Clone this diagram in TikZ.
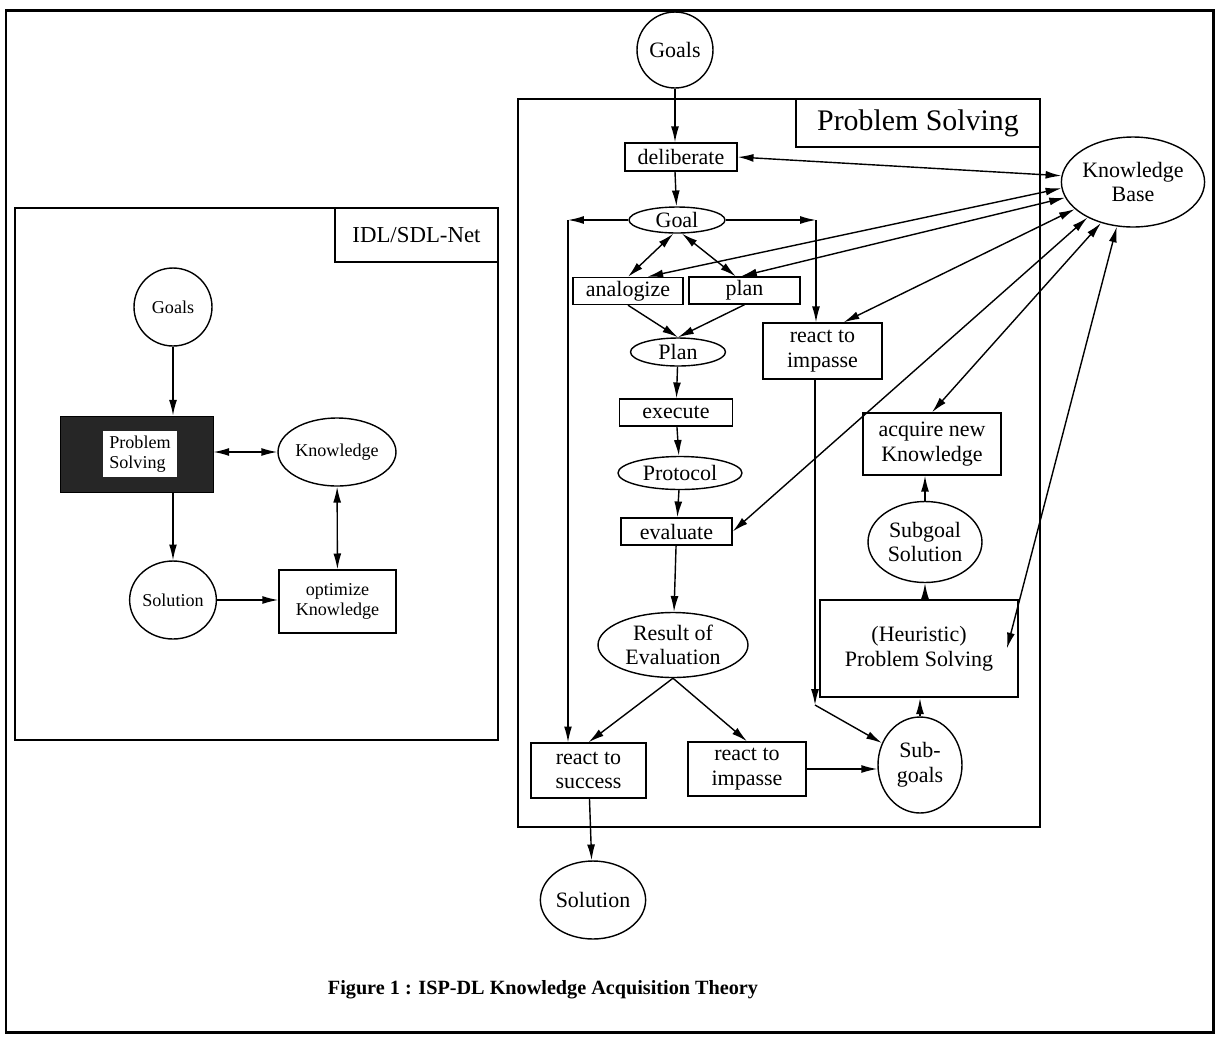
\documentclass[tikz,border=0pt]{standalone}
\usepackage{fontspec}
\setmainfont{Liberation Serif}
\usetikzlibrary{shapes.geometric,arrows.meta}

\begin{document}
\begin{tikzpicture}[x=0.02cm,y=-0.02cm,
    box/.style={draw,rectangle,line width=0.8pt,inner sep=1pt,align=center,font=\fontsize{12.5}{14}\selectfont},
    oval/.style={draw,ellipse,line width=0.8pt,inner sep=0pt,align=center,font=\fontsize{12.5}{14}\selectfont},
    lbox/.style={box,font=\fontsize{10.3}{11.5}\selectfont},
    loval/.style={oval,font=\fontsize{10.3}{12}\selectfont},
    frame/.style={draw,line width=1.3pt},
    arr/.style={line width=0.8pt,-{Latex[length=9pt,width=4.5pt]}},
    dbl/.style={line width=0.8pt,{Latex[length=9pt,width=4.5pt]}-{Latex[length=9pt,width=4.5pt]}}]
\useasboundingbox (0,0) rectangle (1215,1039);
\draw[line width=1.7pt] (6,10) rectangle (1213,1032);

\draw[frame] (15,208) rectangle (498,740);
\node[draw,line width=1.3pt,minimum width=3.26cm,minimum height=1.08cm,font=\fontsize{13}{15}\selectfont] (lnet) at (416.5,235) {IDL/SDL-Net};
\node[loval,minimum size=1.56cm] (lgoals) at (173,307) {Goals};
\node[draw,fill=black!85,minimum width=3.06cm,minimum height=1.52cm] (lps) at (136.5,454) {};
\node[lbox,draw=none,fill=white,minimum width=1.5cm,minimum height=0.92cm,align=left] (lpsin) at (140,454) {Problem\\Solving};
\node[loval,minimum width=2.2cm,minimum height=1.36cm] (lknow) at (337,452) {Knowledge};
\node[loval,minimum size=1.56cm] (lsol) at (173,600) {Solution};
\node[lbox,minimum width=2.34cm,minimum height=1.26cm] (lopt) at (337.5,601.5) {optimize\\Knowledge};
\draw[arr] (lgoals) -- (lps.north -| lgoals);
\draw[dbl] (lps.east |- lknow) -- (lknow);
\draw[arr] (lps.south -| lsol) -- (lsol);
\draw[dbl] (lknow) -- (lopt);
\draw[arr] (lsol) -- (lsol -| lopt.west);

\draw[frame] (518,99) rectangle (1040,827);
\node[draw,line width=1.3pt,minimum width=4.88cm,minimum height=0.96cm,font=\fontsize{17}{19}\selectfont] (title) at (918,123) {Problem Solving};
\node[oval,minimum size=1.52cm] (goals) at (675,50) {Goals};
\node[box,minimum width=2.24cm,minimum height=0.56cm] (delib) at (681,157) {deliberate};
\node[oval,minimum width=1.92cm,minimum height=0.52cm] (goal) at (677,220) {Goal};
\node[box,minimum width=2.2cm,minimum height=0.54cm] (analog) at (628,291) {analogize};
\node[box,minimum width=2.22cm,minimum height=0.54cm] (plan) at (744.5,290.5) {plan};
\node[oval,minimum width=1.9cm,minimum height=0.56cm] (planE) at (678,352) {Plan};
\node[box,minimum width=2.26cm,minimum height=0.54cm] (exec) at (676,412.5) {execute};
\node[oval,minimum width=2.48cm,minimum height=0.66cm] (proto) at (680,473) {Protocol};
\node[box,minimum width=2.22cm,minimum height=0.54cm] (eval) at (676.5,531.5) {evaluate};
\node[oval,minimum width=3cm,minimum height=1.3cm] (result) at (673,645) {Result of\\Evaluation};
\node[box,minimum width=2.3cm,minimum height=1.1cm] (success) at (588.5,770.5) {react to\\success};
\node[box,minimum width=2.36cm,minimum height=1.08cm] (impB) at (747,769) {react to\\impasse};
\node[box,minimum width=2.38cm,minimum height=1.12cm] (impA) at (822.5,351) {react to\\impasse};
\node[oval,minimum width=1.68cm,minimum height=1.92cm] (subgoals) at (920,765) {Sub-\\goals};
\node[box,line width=1.4pt,minimum width=3.96cm,minimum height=1.94cm] (heur) at (919,648.5) {(Heuristic)\\Problem Solving};
\node[oval,minimum width=2.28cm,minimum height=1.62cm] (subsol) at (925,542) {Subgoal\\Solution};
\node[box,minimum width=2.76cm,minimum height=1.24cm] (acq) at (932,444) {acquire new\\Knowledge};
\node[oval,minimum width=2.8cm,minimum height=1.8cm] (kb) at (1133,182) {Knowledge\\Base};
\node[oval,minimum width=1.82cm,minimum height=1.56cm] (solution) at (593,900) {Solution};
\coordinate (gl) at (568,220);
\coordinate (gr) at (816,220);
\coordinate (ia) at (815,705);
\draw[arr] (goals) -- (goals |- delib.north);
\draw[arr] (delib.south -| goals) -- (goal);
\draw[arr] (goal) -- (gl);
\draw[arr] (gl) -- (gl |- success.north);
\draw[arr] (goal) -- (gr);
\draw[arr] (gr) -- (gr |- impA.north);
\draw[dbl] (goal.255) -- (analog.north);
\draw[dbl] (goal.290) -- ([xshift=-5pt]plan.north);
\draw[arr] (analog.south) -- (planE.north);
\draw[arr] (plan.south) -- (planE.north);
\draw[arr] (planE) -- (exec);
\draw[arr] (exec) -- (proto);
\draw[arr] (proto) -- (eval);
\draw[arr] (eval) -- (result);
\draw[arr] (result.south) -- (success.north);
\draw[arr] (result.south) -- (impB.north);
\draw[arr] (impB) -- (impB -| subgoals.west);
\draw[arr] (impA.south -| ia) -- (ia);
\draw[arr] (ia) -- (subgoals.150);
\draw[arr] (subgoals) -- (subgoals |- heur.south);
\draw[arr] (heur.north -| subsol) -- (subsol);
\draw[arr] (subsol) -- (subsol |- acq.south);
\draw[arr] (success) -- (solution);
\draw[dbl] (delib.east) -- (kb.175);
\draw[dbl] ([xshift=11pt]analog.north) -- (kb.185);
\draw[dbl] ([xshift=-2pt]plan.north) -- (kb.193);
\draw[dbl] ([xshift=12pt]impA.north) -- (kb.205);
\draw[dbl] (eval.east) -- (kb.218);
\draw[dbl] (acq.north) -- (kb.232);
\draw[dbl] ([xshift=-7pt]heur.east) -- (kb.250);

\node[font=\bfseries\fontsize{11.5}{13}\selectfont] (cap) at (543,990) {Figure 1 : ISP-DL Knowledge Acquisition Theory};
\end{tikzpicture}
\end{document}
